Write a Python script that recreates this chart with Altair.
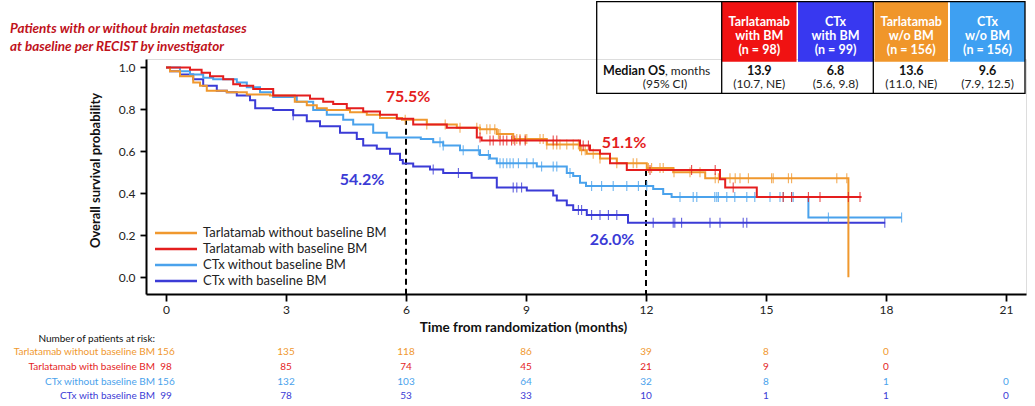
import altair as alt
import numpy as np
import pandas as pd

FONT = "Lato"

# ---- groups and colours -------------------------------------------------
GROUPS = [
    "Tarlatamab without baseline BM",
    "Tarlatamab with baseline BM",
    "CTx without baseline BM",
    "CTx with baseline BM",
]
LINE_COLORS = ["#F0982E", "#E41E1E", "#4AA2EC", "#3B3BD6"]

# ---- Kaplan-Meier step curves (months, survival probability) ------------
tarla_nobm_t = [0, 0.1, 0.35, 0.68, 0.85, 1.02, 1.52, 2.02, 2.6, 3.22, 3.52, 3.77,
                4.02, 4.6, 5.02, 5.35, 5.9, 6.52, 7.27, 7.85, 8.27, 8.68, 9.52,
                10.35, 10.52, 10.85, 11.27, 12.02, 12.68, 13.48, 17.06]
tarla_nobm_s = [1.0, 0.982, 0.958, 0.928, 0.912, 0.889, 0.882, 0.871, 0.866, 0.836,
                0.820, 0.805, 0.797, 0.786, 0.774, 0.759, 0.751, 0.728, 0.712, 0.705,
                0.682, 0.659, 0.633, 0.605, 0.589, 0.566, 0.543, 0.520, 0.500, 0.472, 0.0]

tarla_bm_t = [0, 0.6, 0.89, 1.1, 1.43, 1.68, 1.85, 2.18, 2.68, 3.6, 3.93, 4.18, 4.52,
              4.93, 5.35, 5.77, 6.18, 7.02, 7.77, 7.89, 10.35, 10.6, 10.85, 11.1,
              11.52, 13.85, 13.98, 14.77, 17.39]
tarla_bm_s = [1.0, 0.989, 0.974, 0.958, 0.943, 0.920, 0.912, 0.897, 0.866, 0.851, 0.836,
              0.825, 0.805, 0.790, 0.774, 0.755, 0.728, 0.712, 0.666, 0.651, 0.628,
              0.605, 0.589, 0.543, 0.511, 0.467, 0.428, 0.382, 0.382]

ctx_nobm_t = [0, 0.35, 0.6, 0.93, 1.18, 1.77, 2.02, 2.35, 2.68, 3.27, 3.68, 4.02, 4.43,
              4.68, 5.18, 5.52, 6.37, 6.68, 6.93, 7.35, 7.85, 8.1, 8.27, 9.27, 10.02,
              10.18, 10.35, 10.5, 12.18, 12.43, 12.64, 16.06, 18.39]
ctx_nobm_s = [1.0, 0.982, 0.966, 0.951, 0.943, 0.928, 0.905, 0.882, 0.859, 0.836, 0.797,
              0.774, 0.751, 0.728, 0.689, 0.666, 0.659, 0.643, 0.628, 0.605, 0.582,
              0.566, 0.543, 0.528, 0.497, 0.482, 0.450, 0.435, 0.420, 0.397, 0.382,
              0.285, 0.285]

ctx_bm_t = [0, 0.1, 0.35, 0.68, 0.93, 1.27, 1.52, 1.77, 2.1, 2.23, 2.68, 3.18, 3.52,
            3.85, 4.35, 4.77, 4.93, 5.27, 5.6, 5.85, 5.92, 6.18, 6.6, 6.93, 7.64, 8.27,
            9.02, 9.68, 9.77, 10.02, 10.18, 10.52, 11.55, 17.98]
ctx_bm_s = [1.0, 0.982, 0.966, 0.943, 0.912, 0.889, 0.882, 0.866, 0.843, 0.805, 0.797,
            0.772, 0.743, 0.720, 0.689, 0.659, 0.628, 0.612, 0.589, 0.559, 0.542,
            0.528, 0.513, 0.497, 0.474, 0.428, 0.413, 0.390, 0.366, 0.343, 0.320,
            0.297, 0.260, 0.260]

# ---- censoring times ----------------------------------------------------
tarla_nobm_cens = [5.98, 6.52, 6.98, 7.35, 7.77, 7.85, 8.02, 8.1, 8.22, 8.31, 8.35, 8.68,
                   8.77, 8.85, 8.98, 9.02, 9.35, 9.43, 9.52, 9.68, 9.77, 9.85, 10.02,
                   10.18, 10.31, 10.39, 10.48, 10.68, 10.85, 11.27, 11.68, 11.77, 12.06,
                   12.14, 12.35, 12.43, 12.7, 13.1, 13.35, 13.73, 13.81, 14.1, 14.23,
                   14.35, 14.56, 15.14, 15.18, 15.56, 15.64, 16.77, 17.02]
tarla_bm_cens = [7.85, 8.1, 8.18, 8.35, 8.43, 8.52, 8.64, 8.72, 8.85, 8.98, 9.68, 9.77,
                 10.43, 10.56, 12.1, 13.14, 13.73, 14.18, 15.43, 15.64, 16.06, 16.35,
                 17.06, 17.35]
ctx_nobm_cens = [6.85, 6.93, 7.43, 7.81, 8.06, 8.35, 8.43, 8.52, 8.6, 8.68, 8.81, 9.02,
                 9.18, 9.39, 9.68, 9.77, 10.1, 10.64, 10.89, 11.18, 11.52, 11.81, 12.02,
                 12.85, 13.18, 13.27, 13.72, 13.77, 13.81, 14.02, 14.22, 14.52, 14.72,
                 15.1, 15.35, 15.43, 15.64, 15.68, 16.56, 18.39]
ctx_bm_cens = [3.18, 6.68, 7.31, 8.68, 8.77, 8.89, 10.31, 10.39, 10.64, 10.85, 11.06,
               11.27, 12.18, 12.68, 12.72, 12.89, 13.6, 13.85, 14.43, 14.52, 17.97]

# ---- numbers at risk ----------------------------------------------------
risk_times = [0, 3, 6, 9, 12, 15, 18, 21]
risk_tarla_nobm = [156, 135, 118, 86, 39, 8, 0]
risk_tarla_bm = [98, 85, 74, 45, 21, 9, 0]
risk_ctx_nobm = [156, 132, 103, 64, 32, 8, 1, 0]
risk_ctx_bm = [99, 78, 53, 33, 10, 1, 1, 0]

# ---- landmark estimates -------------------------------------------------
landmark_t = [6, 12]
landmark_s = [0.755, 0.511]
landmark_labels = ["75.5%", "51.1%", "54.2%", "26.0%"]

# ---- median OS table ----------------------------------------------------
table_heads = [["Tarlatamab", "with BM", "(n = 98)"],
               ["CTx", "with BM", "(n = 99)"],
               ["Tarlatamab", "w/o BM", "(n = 156)"],
               ["CTx", "w/o BM", "(n = 156)"]]
table_median = ["13.9", "6.8", "13.6", "9.6"]
table_ci = ["(10.7, NE)", "(5.6, 9.8)", "(11.0, NE)", "(7.9, 12.5)"]
HEAD_COLORS = ["#F01212", "#3838F0", "#F0962A", "#3EA0F2"]

curves_t = [tarla_nobm_t, tarla_bm_t, ctx_nobm_t, ctx_bm_t]
curves_s = [tarla_nobm_s, tarla_bm_s, ctx_nobm_s, ctx_bm_s]
censors = [tarla_nobm_cens, tarla_bm_cens, ctx_nobm_cens, ctx_bm_cens]
risks = [risk_tarla_nobm, risk_tarla_bm, risk_ctx_nobm, risk_ctx_bm]

# ---- layout (pixels) ----------------------------------------------------
W, H = 880, 235
OX, OY = 146, 59          # plot origin inside the page
Y_MIN, Y_MAX = -0.08, 1.04

def px(x):
    return alt.value(x - OX)

def py(y):
    return alt.value(y - OY)

one = pd.DataFrame({"k": [0]})

x_scale = alt.Scale(domain=[-0.5, 21.5], nice=False, zero=False)
y_scale = alt.Scale(domain=[Y_MIN, Y_MAX], nice=False, zero=False)

layers = []

# axes carrier (invisible)
axis_df = pd.DataFrame({"t": [0], "s": [0]})
layers.append(
    alt.Chart(axis_df).mark_point(opacity=0).encode(
        x=alt.X("t:Q", scale=x_scale, axis=alt.Axis(
            values=[0, 3, 6, 9, 12, 15, 18, 21], title="Time from randomization (months)",
            titleX=377, titleY=33, titleBaseline="middle", titleFontSize=13.5,
            titleFontWeight="bold", titleFont=FONT, titleColor="#111",
            labelFont=FONT, labelFontSize=12, labelColor="#222", labelPadding=3,
            tickSize=7, tickWidth=1.8, tickColor="black", domainColor="black",
            domainWidth=2, grid=False)),
        y=alt.Y("s:Q", scale=y_scale, axis=alt.Axis(
            values=[0, 0.2, 0.4, 0.6, 0.8, 1.0], format=".1f",
            title="Overall survival probability", titleX=-51, titleY=111,
            titleAlign="center", titleBaseline="middle", titleAngle=270,
            titleFontSize=13, titleFontWeight="bold", titleFont=FONT, titleColor="#111",
            labelFont=FONT, labelFontSize=12, labelColor="#222", labelPadding=5,
            tickSize=6, tickWidth=1.8, tickColor="black", domainColor="black",
            domainWidth=2, grid=False)),
    )
)

# dashed landmark lines
lm = pd.DataFrame({"t": landmark_t, "s": landmark_s, "b": [Y_MIN, Y_MIN]})
layers.append(
    alt.Chart(lm).mark_rule(color="black", strokeWidth=2, strokeDash=[6, 4]).encode(
        x=alt.X("t:Q", scale=x_scale), y=alt.Y("s:Q", scale=y_scale), y2="b:Q")
)

# curves and censor marks (drawn back to front)
for gi in [3, 2, 0, 1]:
    cdf = pd.DataFrame({"t": curves_t[gi], "s": curves_s[gi]})
    cdf["i"] = np.arange(len(cdf))
    layers.append(
        alt.Chart(cdf).mark_line(interpolate="step-after", strokeWidth=2,
                                 color=LINE_COLORS[gi]).encode(
            x=alt.X("t:Q", scale=x_scale), y=alt.Y("s:Q", scale=y_scale), order="i:Q")
    )
    ct = np.array(censors[gi])
    idx = np.searchsorted(np.array(curves_t[gi]), ct, side="right") - 1
    tdf = pd.DataFrame({"t": ct, "s": np.array(curves_s[gi])[idx]})
    layers.append(
        alt.Chart(tdf).mark_tick(orient="vertical", size=10, thickness=1.1,
                                 color=LINE_COLORS[gi], opacity=0.8).encode(
            x=alt.X("t:Q", scale=x_scale), y=alt.Y("s:Q", scale=y_scale))
    )

# landmark percentage labels
label_pos = [(408, 97, "#E41E1E"), (624, 143, "#E41E1E"),
             (362, 180, "#3B3BD6"), (612, 240, "#3B3BD6")]
for (lx, ly, lc), txt in zip(label_pos, landmark_labels):
    layers.append(
        alt.Chart(one).mark_text(text=txt, font=FONT, fontSize=16, fontWeight="bold",
                                 color=lc, align="center", baseline="middle").encode(
            x=px(lx), y=py(ly))
    )

# legend
legend_rows = [233, 249, 265, 281]
for gi, ly in enumerate(legend_rows):
    layers.append(
        alt.Chart(one).mark_rule(color=LINE_COLORS[gi], strokeWidth=2.5).encode(
            x=px(155), x2=px(197), y=py(ly))
    )
    layers.append(
        alt.Chart(one).mark_text(text=GROUPS[gi], font=FONT, fontSize=13, color="#222",
                                 align="left", baseline="middle").encode(
            x=px(203), y=py(ly))
    )

# title
for line, ty in zip(["Patients with or without brain metastases",
                     "at baseline per RECIST by investigator"], [33, 51]):
    layers.append(
        alt.Chart(one).mark_text(text=line, font=FONT, fontSize=13.5, fontWeight="bold",
                                 fontStyle="italic", color="#C0121B", align="left",
                                 baseline="alphabetic").encode(x=px(10), y=py(ty))
    )

# numbers at risk
risk_rows = [352, 367, 382, 396]
layers.append(
    alt.Chart(one).mark_text(text="Number of patients at risk:", font=FONT, fontSize=10,
                             color="#111", align="right", baseline="middle").encode(
        x=px(155), y=py(339))
)
for gi, ry in enumerate(risk_rows):
    layers.append(
        alt.Chart(one).mark_text(text=GROUPS[gi], font=FONT, fontSize=10,
                                 color=LINE_COLORS[gi], align="right",
                                 baseline="middle").encode(x=px(155), y=py(ry))
    )
    rdf = pd.DataFrame({"t": risk_times[:len(risks[gi])], "n": risks[gi]})
    layers.append(
        alt.Chart(rdf).mark_text(font=FONT, fontSize=10, color=LINE_COLORS[gi],
                                 align="center", baseline="middle").encode(
            x=alt.X("t:Q", scale=x_scale), y=py(ry), text="n:Q")
    )

# median OS table
cell_x = [(722, 796.5), (798, 873), (874.5, 948), (950, 1025)]
for ci, (x0, x1) in enumerate(cell_x):
    layers.append(
        alt.Chart(one).mark_rect(color=HEAD_COLORS[ci]).encode(
            x=px(x0), x2=px(x1), y=py(2), y2=py(61.7))
    )
    cx = (x0 + x1) / 2
    for line, hy in zip(table_heads[ci], [21.7, 35.5, 49.5]):
        layers.append(
            alt.Chart(one).mark_text(text=line, font=FONT, fontSize=12.5, fontWeight="bold",
                                     color="white", align="center",
                                     baseline="middle").encode(x=px(cx), y=py(hy))
        )
    layers.append(
        alt.Chart(one).mark_text(text=table_median[ci], font=FONT, fontSize=12.5,
                                 fontWeight="bold", color="#111", align="center",
                                 baseline="middle").encode(x=px(cx), y=py(71))
    )
    layers.append(
        alt.Chart(one).mark_text(text=table_ci[ci], font=FONT, fontSize=12, color="#222",
                                 align="center", baseline="middle").encode(
            x=px(cx), y=py(84))
    )
layers.append(
    alt.Chart(one).mark_rect(fill=None, stroke="black", strokeWidth=1.3).encode(
        x=px(596.7), x2=px(1025), y=py(1.7), y2=py(93.3))
)
for vx in [721.7, 873.3]:
    layers.append(
        alt.Chart(one).mark_rule(color="black", strokeWidth=1.3).encode(
            x=px(vx), y=py(1.7), y2=py(93.3))
    )
layers.append(
    alt.Chart(one).mark_text(text="Median OS", font=FONT, fontSize=12.5, fontWeight="bold",
                             color="#111", align="right", baseline="middle").encode(
        x=px(665), y=py(71))
)
layers.append(
    alt.Chart(one).mark_text(text=", months", font=FONT, fontSize=12, color="#222",
                             align="left", baseline="middle").encode(x=px(665), y=py(71))
)
layers.append(
    alt.Chart(one).mark_text(text="(95% CI)", font=FONT, fontSize=12, color="#222",
                             align="center", baseline="middle").encode(x=px(665), y=py(84))
)

chart = alt.layer(*layers).properties(
    width=W, height=H,
    padding={"left": OX, "top": OY, "right": 1035 - OX - W, "bottom": 406 - OY - H},
    autosize=alt.AutoSizeParams(type="none"),
).configure_view(stroke=None).configure(background="white")

chart.save("out.html", embed_options={"renderer": "svg", "actions": False})
